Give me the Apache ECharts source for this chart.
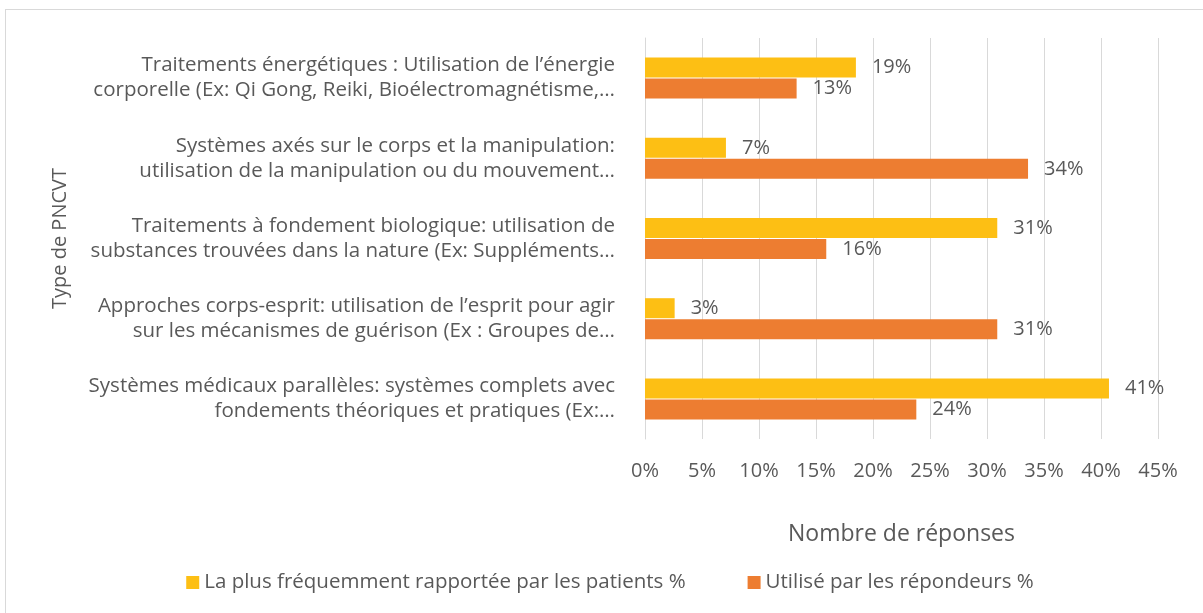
<!DOCTYPE html>
<html>
<head>
<meta charset="utf-8">
<script src="https://cdn.jsdelivr.net/npm/echarts@6/dist/echarts.min.js"></script>
<style>
  html, body { margin: 0; padding: 0; background: #fff; }
  #chart { position: absolute; left: 5px; top: 9px; width: 1210px; height: 620px; border: 1px solid #d9d9d9; box-sizing: border-box; }
</style>
</head>
<body>
<div id="chart"></div>
<script>
// categories (top to bottom)
var categories = [
    'Traitements énergétiques : Utilisation de l’énergie\ncorporelle (Ex: Qi Gong, Reiki, Bioélectromagnétisme,…',
    'Systèmes axés sur le corps et la manipulation:\nutilisation de la manipulation ou du mouvement…',
    'Traitements à fondement biologique: utilisation de\nsubstances trouvées dans la nature (Ex: Suppléments…',
    'Approches corps-esprit: utilisation de l’esprit pour agir\nsur les mécanismes de guérison (Ex : Groupes de…',
    'Systèmes médicaux parallèles: systèmes complets avec\nfondements théoriques et pratiques (Ex:…'
];
var seriesNames = ['La plus fréquemment rapportée par les patients %', 'Utilisé par les répondeurs %'];
var patients = [18.5, 7.1, 30.9, 2.6, 40.7];
var repondeurs = [13.3, 33.6, 15.9, 30.9, 23.8];
var xTicks = [0, 45, 5];

var font = 'Open Sans';
var grey = '#595959';

var myChart = echarts.init(document.getElementById('chart'));
var lbl = {
    show: true,
    position: 'right',
    distance: 16,
    color: grey,
    fontSize: 20,
    fontFamily: font,
    formatter: function (p) { return Math.round(p.value) + '%'; }
};
myChart.setOption({
    animation: false,
    color: ['#FDBF14', '#ED7D31'],
    grid: { left: 639, right: 56, top: 28, bottom: 189, containLabel: false },
    legend: {
        bottom: 30,
        left: 'center',
        itemWidth: 13,
        itemHeight: 13,
        itemGap: 62,
        icon: 'rect',
        textStyle: { color: grey, fontSize: 20.5, fontFamily: font },
        data: seriesNames
    },
    xAxis: {
        type: 'value',
        min: xTicks[0],
        max: xTicks[1],
        interval: xTicks[2],
        name: 'Nombre de réponses',
        nameLocation: 'middle',
        nameGap: 84,
        nameTextStyle: { color: grey, fontSize: 23, fontFamily: font },
        axisLine: { show: false },
        axisTick: { show: false },
        axisLabel: { color: grey, fontSize: 20, fontFamily: font, margin: 22, formatter: '{value}%' },
        splitLine: { lineStyle: { color: '#d9d9d9', width: 1 } }
    },
    yAxis: {
        type: 'category',
        inverse: true,
        data: categories,
        name: 'Type de PNCVT',
        nameLocation: 'middle',
        nameGap: 575,
        nameRotate: 90,
        nameTextStyle: { color: grey, fontSize: 20, fontFamily: font },
        axisLine: { show: true, lineStyle: { color: '#d9d9d9' } },
        axisTick: { show: false },
        axisLabel: { color: grey, fontSize: 20.5, fontFamily: font, lineHeight: 25, margin: 30, align: 'right' }
    },
    series: [
        { name: seriesNames[0], type: 'bar', data: patients, barWidth: 20, barGap: '5%', label: lbl },
        { name: seriesNames[1], type: 'bar', data: repondeurs, barWidth: 20, barGap: '5%', label: lbl }
    ]
});
</script>
</body>
</html>
